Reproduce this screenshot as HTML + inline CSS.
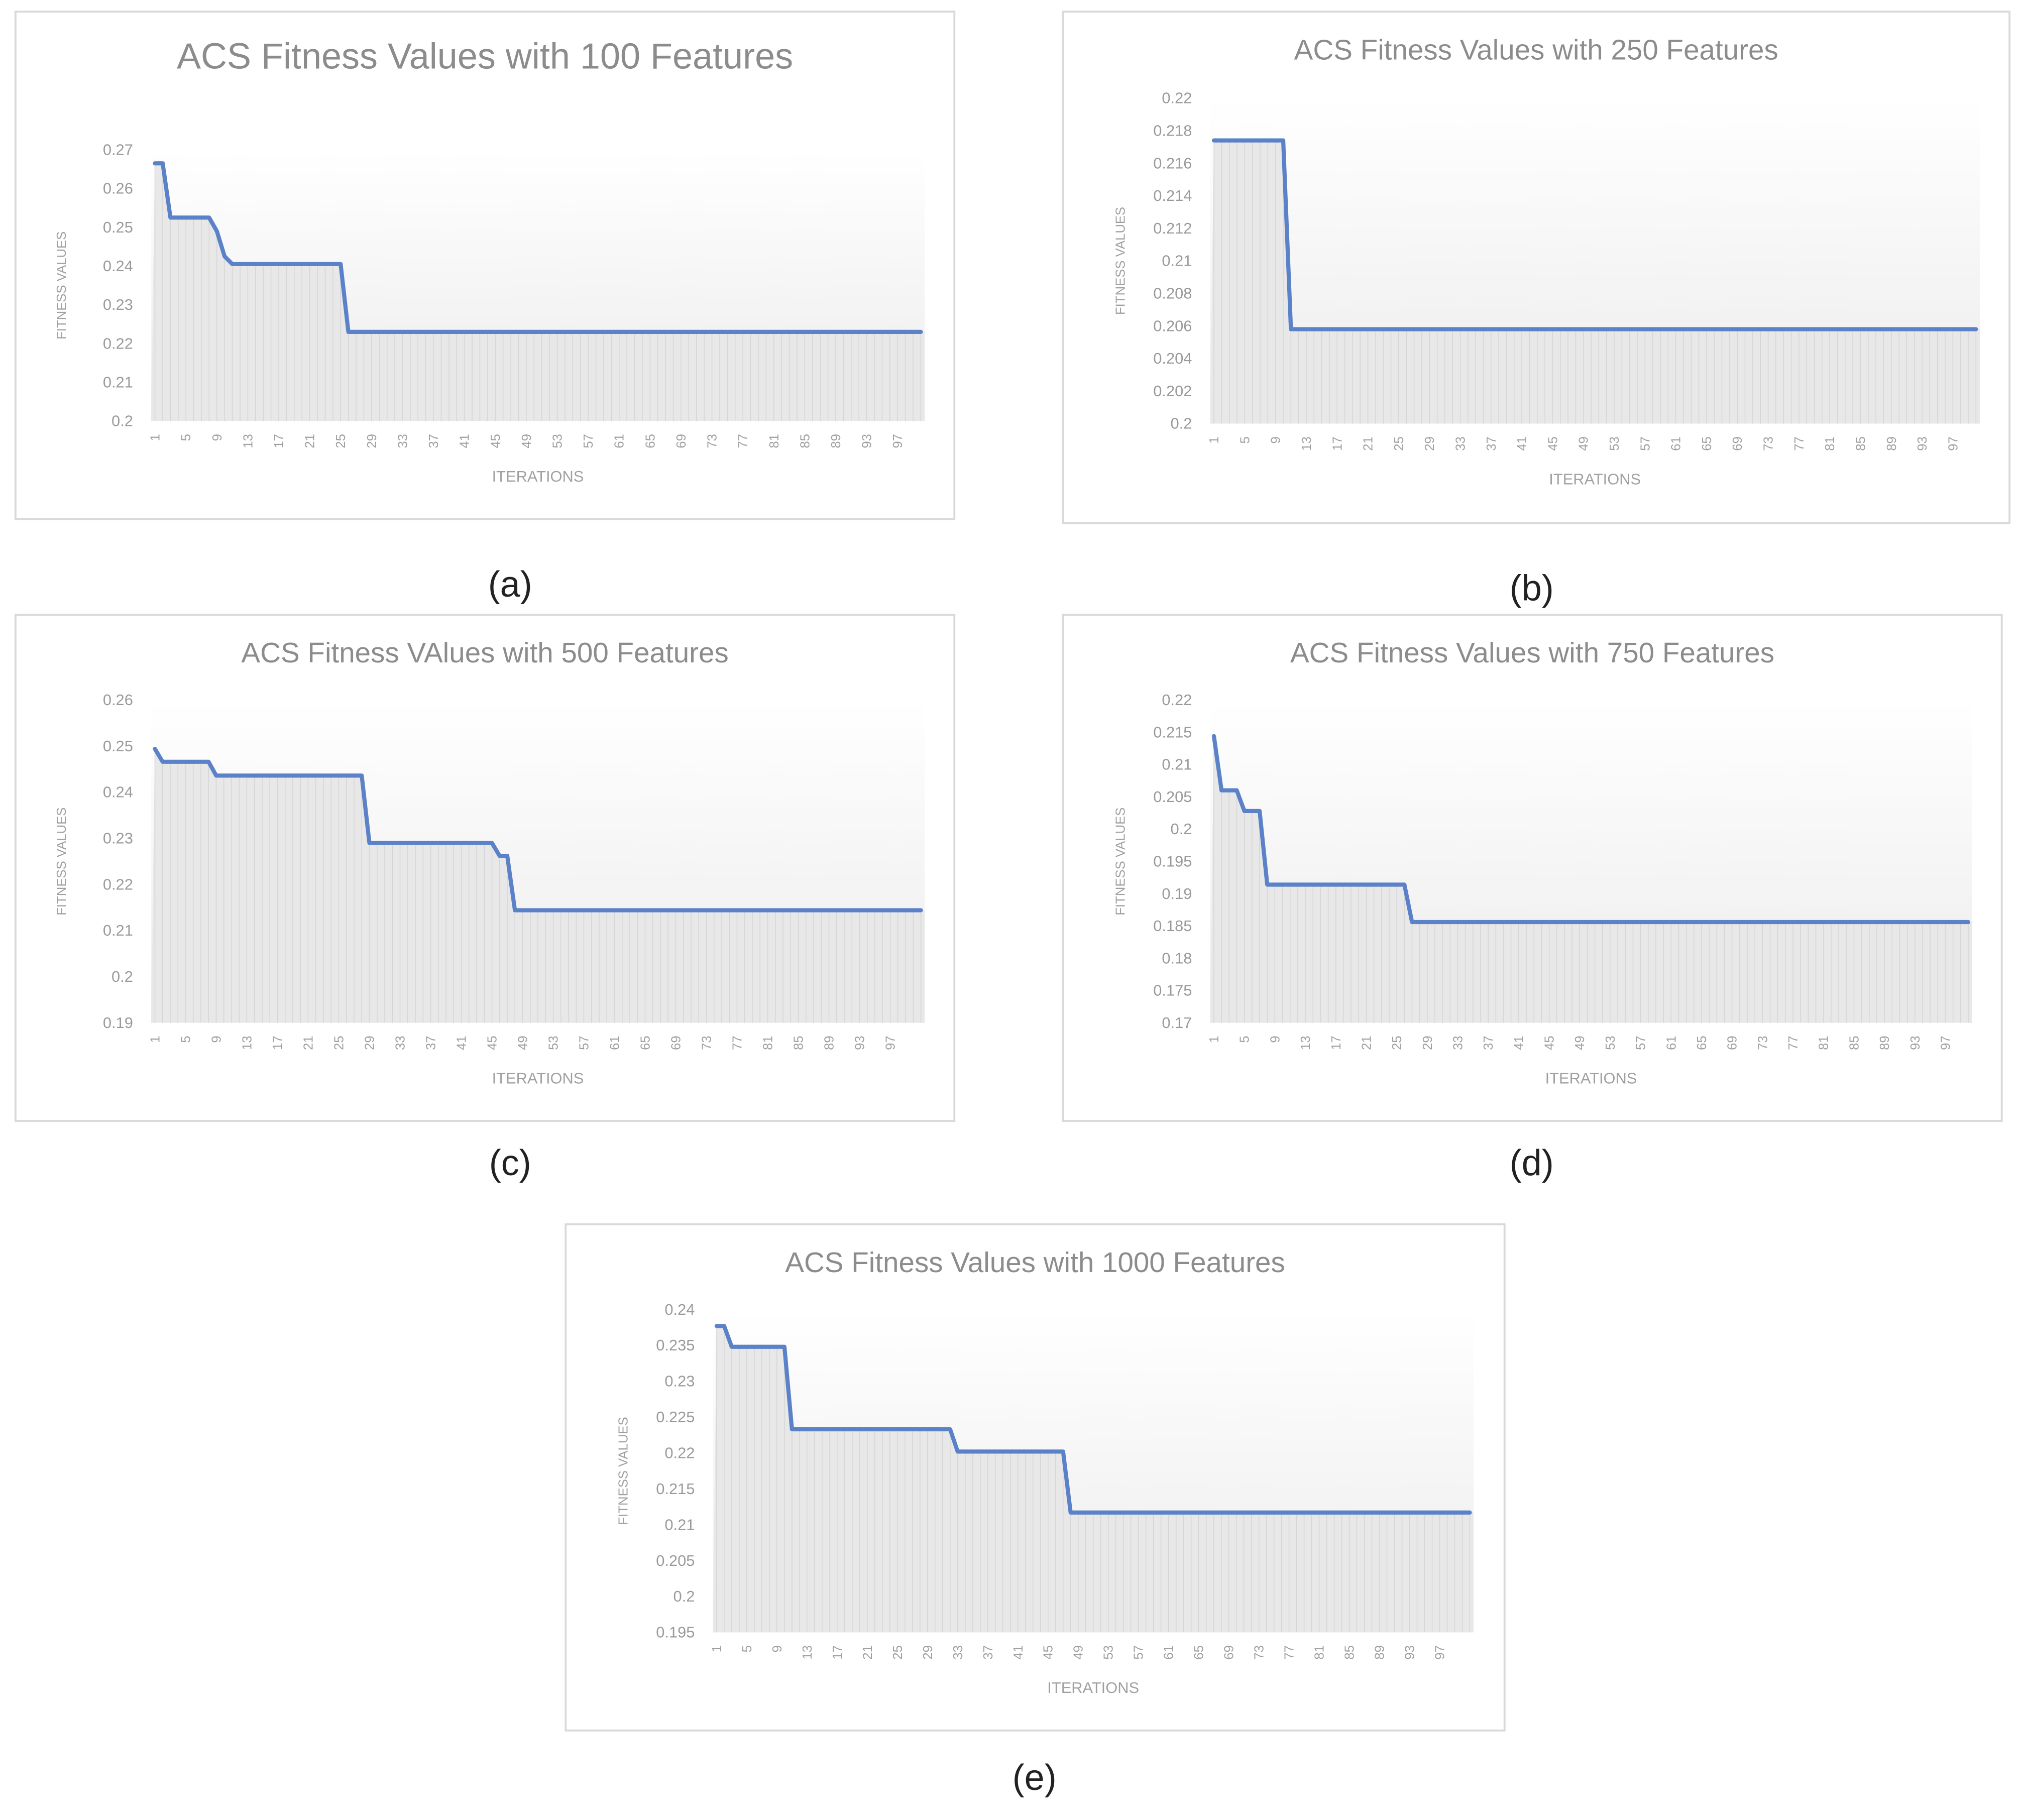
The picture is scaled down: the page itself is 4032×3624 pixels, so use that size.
<!DOCTYPE html>
<html><head><meta charset="utf-8"><style>
html,body{margin:0;padding:0;background:#fff;}
svg{display:block;}
</style></head><body>
<svg id="fig" width="4032" height="3624" viewBox="0 0 1568 1409.3" preserveAspectRatio="none" xmlns="http://www.w3.org/2000/svg">
<defs>
<linearGradient id="bg" x1="0" y1="0" x2="0" y2="1"><stop offset="0" stop-color="#ffffff"/><stop offset="1" stop-color="#ececec"/></linearGradient>
<pattern id="stripes" width="6" height="10" patternUnits="userSpaceOnUse"><rect width="6" height="10" fill="#e9e9e9"/><rect width="1" height="10" fill="#dcdcdc"/></pattern>
</defs>
</svg>
<script>
const NS='http://www.w3.org/2000/svg';
const svg=document.getElementById('fig');
const iterations=[];for(let i=1;i<=100;i++)iterations.push(i);
const xTickLabels=['1','5','9','13','17','21','25','29','33','37','41','45','49','53','57','61','65','69','73','77','81','85','89','93','97'];

const valuesA=[0.2665,0.2665,0.2525,0.2525,0.2525,0.2525,0.2525,0.2525,0.249,0.2425,0.2405,0.2405,0.2405,0.2405,0.2405,0.2405,0.2405,0.2405,0.2405,0.2405,0.2405,0.2405,0.2405,0.2405,0.2405,0.223,0.223,0.223,0.223,0.223,0.223,0.223,0.223,0.223,0.223,0.223,0.223,0.223,0.223,0.223,0.223,0.223,0.223,0.223,0.223,0.223,0.223,0.223,0.223,0.223,0.223,0.223,0.223,0.223,0.223,0.223,0.223,0.223,0.223,0.223,0.223,0.223,0.223,0.223,0.223,0.223,0.223,0.223,0.223,0.223,0.223,0.223,0.223,0.223,0.223,0.223,0.223,0.223,0.223,0.223,0.223,0.223,0.223,0.223,0.223,0.223,0.223,0.223,0.223,0.223,0.223,0.223,0.223,0.223,0.223,0.223,0.223,0.223,0.223,0.223];
const ticksA=['0.2','0.21','0.22','0.23','0.24','0.25','0.26','0.27'];

const valuesB=[0.2174,0.2174,0.2174,0.2174,0.2174,0.2174,0.2174,0.2174,0.2174,0.2174,0.2058,0.2058,0.2058,0.2058,0.2058,0.2058,0.2058,0.2058,0.2058,0.2058,0.2058,0.2058,0.2058,0.2058,0.2058,0.2058,0.2058,0.2058,0.2058,0.2058,0.2058,0.2058,0.2058,0.2058,0.2058,0.2058,0.2058,0.2058,0.2058,0.2058,0.2058,0.2058,0.2058,0.2058,0.2058,0.2058,0.2058,0.2058,0.2058,0.2058,0.2058,0.2058,0.2058,0.2058,0.2058,0.2058,0.2058,0.2058,0.2058,0.2058,0.2058,0.2058,0.2058,0.2058,0.2058,0.2058,0.2058,0.2058,0.2058,0.2058,0.2058,0.2058,0.2058,0.2058,0.2058,0.2058,0.2058,0.2058,0.2058,0.2058,0.2058,0.2058,0.2058,0.2058,0.2058,0.2058,0.2058,0.2058,0.2058,0.2058,0.2058,0.2058,0.2058,0.2058,0.2058,0.2058,0.2058,0.2058,0.2058,0.2058];
const ticksB=['0.2','0.202','0.204','0.206','0.208','0.21','0.212','0.214','0.216','0.218','0.22'];

const valuesC=[0.2494,0.2466,0.2466,0.2466,0.2466,0.2466,0.2466,0.2466,0.2436,0.2436,0.2436,0.2436,0.2436,0.2436,0.2436,0.2436,0.2436,0.2436,0.2436,0.2436,0.2436,0.2436,0.2436,0.2436,0.2436,0.2436,0.2436,0.2436,0.229,0.229,0.229,0.229,0.229,0.229,0.229,0.229,0.229,0.229,0.229,0.229,0.229,0.229,0.229,0.229,0.229,0.2262,0.2262,0.2144,0.2144,0.2144,0.2144,0.2144,0.2144,0.2144,0.2144,0.2144,0.2144,0.2144,0.2144,0.2144,0.2144,0.2144,0.2144,0.2144,0.2144,0.2144,0.2144,0.2144,0.2144,0.2144,0.2144,0.2144,0.2144,0.2144,0.2144,0.2144,0.2144,0.2144,0.2144,0.2144,0.2144,0.2144,0.2144,0.2144,0.2144,0.2144,0.2144,0.2144,0.2144,0.2144,0.2144,0.2144,0.2144,0.2144,0.2144,0.2144,0.2144,0.2144,0.2144,0.2144,0.2144];
const ticksC=['0.19','0.2','0.21','0.22','0.23','0.24','0.25','0.26'];

const valuesD=[0.2144,0.206,0.206,0.206,0.2028,0.2028,0.2028,0.1914,0.1914,0.1914,0.1914,0.1914,0.1914,0.1914,0.1914,0.1914,0.1914,0.1914,0.1914,0.1914,0.1914,0.1914,0.1914,0.1914,0.1914,0.1914,0.1856,0.1856,0.1856,0.1856,0.1856,0.1856,0.1856,0.1856,0.1856,0.1856,0.1856,0.1856,0.1856,0.1856,0.1856,0.1856,0.1856,0.1856,0.1856,0.1856,0.1856,0.1856,0.1856,0.1856,0.1856,0.1856,0.1856,0.1856,0.1856,0.1856,0.1856,0.1856,0.1856,0.1856,0.1856,0.1856,0.1856,0.1856,0.1856,0.1856,0.1856,0.1856,0.1856,0.1856,0.1856,0.1856,0.1856,0.1856,0.1856,0.1856,0.1856,0.1856,0.1856,0.1856,0.1856,0.1856,0.1856,0.1856,0.1856,0.1856,0.1856,0.1856,0.1856,0.1856,0.1856,0.1856,0.1856,0.1856,0.1856,0.1856,0.1856,0.1856,0.1856,0.1856];
const ticksD=['0.17','0.175','0.18','0.185','0.19','0.195','0.2','0.205','0.21','0.215','0.22'];

const valuesE=[0.2377,0.2377,0.2348,0.2348,0.2348,0.2348,0.2348,0.2348,0.2348,0.2348,0.2233,0.2233,0.2233,0.2233,0.2233,0.2233,0.2233,0.2233,0.2233,0.2233,0.2233,0.2233,0.2233,0.2233,0.2233,0.2233,0.2233,0.2233,0.2233,0.2233,0.2233,0.2233,0.2202,0.2202,0.2202,0.2202,0.2202,0.2202,0.2202,0.2202,0.2202,0.2202,0.2202,0.2202,0.2202,0.2202,0.2202,0.2117,0.2117,0.2117,0.2117,0.2117,0.2117,0.2117,0.2117,0.2117,0.2117,0.2117,0.2117,0.2117,0.2117,0.2117,0.2117,0.2117,0.2117,0.2117,0.2117,0.2117,0.2117,0.2117,0.2117,0.2117,0.2117,0.2117,0.2117,0.2117,0.2117,0.2117,0.2117,0.2117,0.2117,0.2117,0.2117,0.2117,0.2117,0.2117,0.2117,0.2117,0.2117,0.2117,0.2117,0.2117,0.2117,0.2117,0.2117,0.2117,0.2117,0.2117,0.2117,0.2117,0.2117];
const ticksE=['0.195','0.2','0.205','0.21','0.215','0.22','0.225','0.23','0.235','0.24'];

function mk(tag,attrs,parent){const e=document.createElementNS(NS,tag);for(const k in attrs)e.setAttribute(k,attrs[k]);(parent||svg).appendChild(e);return e;}

function chart(key,title,values,ticks,box,plot,titleSize,caption,capPos){
  const g=mk('g',{});
  
  
  const fr=mk('rect',{x:box[0],y:box[1],width:box[2]-box[0],height:box[3]-box[1],fill:'#fff',stroke:'#d9d9d9','stroke-width':1.5},g);
  
  
  const t=mk('text',{x:(box[0]+box[2])/2,y:titleSize>24?box[1]+44:box[1]+37,'text-anchor':'middle','font-family':'Liberation Sans, sans-serif','font-size':titleSize,fill:'#8c8c8c'},g);
  t.textContent=title;
  
  
  const [L,T,R,B]=plot;
  const ymin=parseFloat(ticks[0]),ymax=parseFloat(ticks[ticks.length-1]);
  const ys=v=>B-(v-ymin)/(ymax-ymin)*(B-T);
  const bw=(R-L)/values.length;
  const xs=i=>L+(i+0.5)*bw;
  const bg=mk('rect',{x:L,y:T,width:R-L,height:B-T,fill:'url(#bg)'},g);
  
  
  let d='M'+L+','+B;
  values.forEach((v,i)=>{d+=' L'+xs(i)+','+ys(v);});
  d+=' L'+R+','+ys(values[values.length-1])+' L'+R+','+B+' Z';
  const ar=mk('path',{d:d,fill:'#e8e8e8'},g);
  
  
  values.forEach((v,i)=>{
    const ln=mk('line',{x1:xs(i),x2:xs(i),y1:ys(v),y2:B,stroke:'#d6d6d6','stroke-width':0.6},g);
    
    
  });
  let p='';
  values.forEach((v,i)=>{p+=(i?' L':'M')+xs(i)+','+ys(v);});
  const line=mk('path',{d:p,fill:'none',stroke:'#5b82c8','stroke-width':3.2,'stroke-linejoin':'round','stroke-linecap':'round'},g);
  
  
  ticks.forEach(tk=>{
    const tx=mk('text',{x:L-14,y:ys(parseFloat(tk))+4,'text-anchor':'end','font-family':'Liberation Sans, sans-serif','font-size':12,fill:'#9a9a9a'},g);
    tx.textContent=tk;
    
    
  });
  xTickLabels.forEach(lb=>{
    const i=parseInt(lb)-1;
    const tx=mk('text',{x:0,y:0,'text-anchor':'end','font-family':'Liberation Sans, sans-serif','font-size':10,fill:'#a0a0a0',transform:'translate('+(xs(i)+3.5)+','+(B+10)+') rotate(-90)'},g);
    tx.textContent=lb;
    
    
  });
  const xt=mk('text',{x:(L+R)/2,y:B+47,'text-anchor':'middle','font-family':'Liberation Sans, sans-serif','font-size':12,fill:'#a0a0a0'},g);
  xt.textContent='ITERATIONS';
  
  
  const yt=mk('text',{x:0,y:0,'text-anchor':'middle','font-family':'Liberation Sans, sans-serif','font-size':10,fill:'#a0a0a0',transform:'translate('+(L-66)+','+((T+B)/2)+') rotate(-90)'},g);
  yt.textContent='FITNESS VALUES';
  
  
  const cp=mk('text',{x:capPos[0],y:capPos[1],'text-anchor':'middle','font-family':'Liberation Sans, sans-serif','font-size':28,fill:'#222'},svg);
  cp.textContent=caption;
  
  
}
chart('a','ACS Fitness Values with 100 Features',valuesA,ticksA,[12,9,739,402],[117,116,716,326],28,'(a)',[395,462]);
chart('b','ACS Fitness Values with 250 Features',valuesB,ticksB,[823,9,1556,405],[937,76,1533,328],22,'(b)',[1186,465]);
chart('c','ACS Fitness VAlues with 500 Features',valuesC,ticksC,[12,476,739,868],[117,542,716,792],22,'(c)',[395,910]);
chart('d','ACS Fitness Values with 750 Features',valuesD,ticksD,[823,476,1550,868],[937,542,1527,792],22,'(d)',[1186,910]);
chart('e','ACS Fitness Values with 1000 Features',valuesE,ticksE,[438,948,1165,1340],[552,1014,1141,1264],22,'(e)',[801,1386]);
</script>
</body></html>
